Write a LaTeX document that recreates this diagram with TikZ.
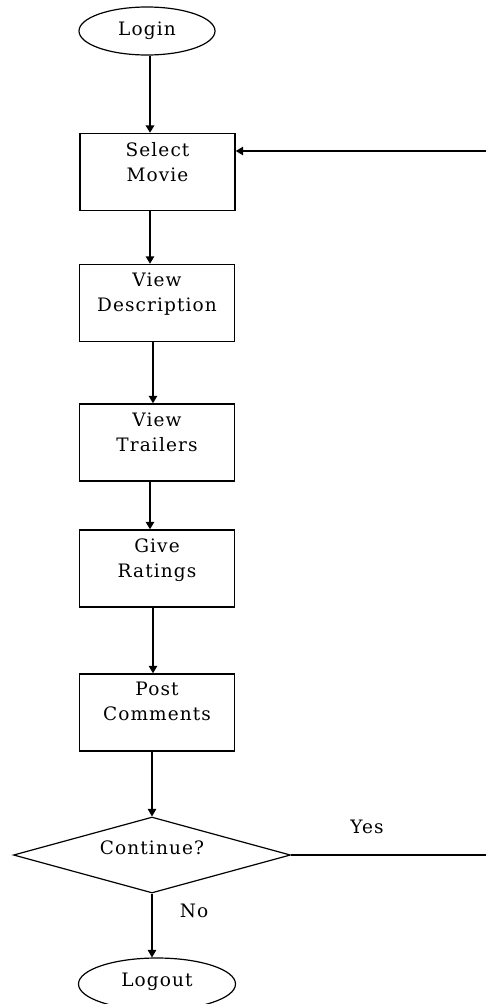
\documentclass[tikz,border=0pt]{standalone}
\usepackage{fontspec}
\newfontfamily\dfont{DejaVu Serif}[LetterSpace=6]
\usetikzlibrary{shapes.geometric,arrows.meta}
\begin{document}
\begin{tikzpicture}[x=1pt,y=-1pt,
  every node/.style={inner sep=0pt},
  txt/.style={font=\dfont\fontsize{18.5}{25}\selectfont, align=center},
  stepbox/.style={draw, line width=1.4pt, minimum width=155pt, minimum height=77pt},
  term/.style={draw, line width=1.2pt, ellipse},
  arr/.style={line width=1.4pt, -{Triangle[width=8.5pt,length=7.5pt]}},
  ln/.style={line width=1.4pt}]
\useasboundingbox (0,0) rectangle (486,1004);
% terminals
\node[term, minimum width=136pt, minimum height=48pt] (login) at (147,31) {};
\node[txt, anchor=base] (logint) at (147,35) {Login};
% boxes
\node[stepbox] (sel) at (157.5,172) {};
\node[txt, anchor=north] (selt) at ([yshift=-9pt]sel.north) {Select\\Movie};
\node[stepbox] (desc) at (157,303) {};
\node[txt, anchor=north] (desct) at ([yshift=-9pt]desc.north) {View\\Description};
\node[stepbox] (trail) at (157,442.5) {};
\node[txt, anchor=north] (trailt) at ([yshift=-9pt]trail.north) {View\\Trailers};
\node[stepbox] (give) at (157,568.5) {};
\node[txt, anchor=north] (givet) at ([yshift=-9pt]give.north) {Give\\Ratings};
\node[stepbox] (post) at (157,712.5) {};
\node[txt, anchor=north] (postt) at ([yshift=-9pt]post.north) {Post\\Comments};
% decision
\node[draw, line width=1.2pt, diamond, aspect=3.64, minimum width=277pt, minimum height=76pt] (dia) at (152,855) {};
\node[txt] (diat) at (152,848) {Continue?};
\node[term, minimum width=157pt, minimum height=52pt] (logout) at (157,984) {};
\node[txt, anchor=base] (logoutt) at (157,986) {Logout};
% labels
\node[txt] (yes) at (367,827) {Yes};
\node[txt] (no) at (194,911) {No};
% connectors
\coordinate (a1) at (150,0);
\coordinate (a2) at (153,0);
\draw[arr, line width=2pt] (login.south -| a1) -- (sel.north -| a1);
\draw[arr] (sel.south -| a1) -- (desc.north -| a1);
\draw[arr] (desc.south -| a2) -- (trail.north -| a2);
\draw[arr] (trail.south -| a1) -- (give.north -| a1);
\draw[arr] (give.south -| a2) -- (post.north -| a2);
\draw[arr] (post.south -| dia.north) -- (dia.north);
\draw[arr] (dia.south) -- (logout.north -| dia.south);
\coordinate (yesend) at (486,855);
\coordinate (retstart) at (486,151);
\draw[ln] (dia.east) -- (yesend);
\draw[arr] (retstart) -- (retstart -| sel.east);
\end{tikzpicture}
\end{document}
